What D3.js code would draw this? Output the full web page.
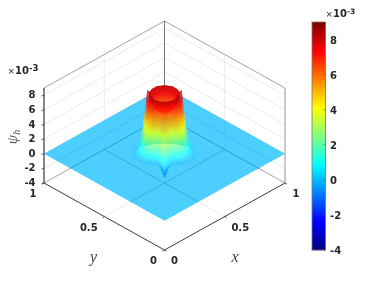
<!DOCTYPE html>
<html><head><meta charset="utf-8">
<script src="https://cdn.jsdelivr.net/npm/d3@7"></script>
<style>html,body{margin:0;padding:0;background:#fff}svg{display:block;filter:blur(.3px)}text{font-family:"DejaVu Sans";font-weight:bold;fill:#262626;font-size:10px}.m{font-family:"Liberation Serif";font-style:italic;font-weight:normal}</style>
</head><body><script>
const zTicks=[-4,-2,0,2,4,6,8];
const xyTicks=[0,0.5,1];
const cbarTicks=[-4,-2,0,2,4,6,8];
const jetStops=["#000080","#0000ff","#00ffff","#ffff00","#ff0000","#800000"];
const jetPos=[0,0.125,0.375,0.625,0.875,1];
// polar profile of the peak about (0.5,0.5): ring radii and heights (x10^-3)
const ringR=[0,0.05,0.08,0.088,0.1,0.11,0.12,0.13,0.15,0.17,0.19];
const ringZ=[5.8,6.2,7.4,8.2,7.6,5.6,3.6,1.9,0.5,0.1,0];
// front spoke (the undershooting node)
const spikeR=[0,0.05,0.08,0.088,0.098,0.108,0.118,0.128,0.14,0.158,0.177];
const spikeZ=[5.8,6.2,7.4,8.2,7.2,6.2,5.2,4.2,2.9,1,-1];
const spokeAngles=[-180,-150,-125,-100,-75,-50,-35,-18,0,18,35,50,75,100,125,150];
const spokeBump=[0,0.5,-1,0.8,-0.8,1.1,-0.8,0,0,0,-0.8,1.1,-0.8,0.8,-1,0.5];
const spokeScale=[0.6,0.65,0.8,1,1,0.8,0.68,0.58,1,0.58,0.68,0.8,1,1,0.8,0.65];

const W=374,H=281;
const sx=d3.scaleLinear().domain([0,1]).range([0,120.5]);
const sg=d3.scaleLinear().domain([0,1]).range([0,67]);
const sz=d3.scaleLinear().domain([-4,9]).range([0,-95]);
const ox=164.5,oy=250;
const P=(x,y,z)=>[ox+sx(x)-sx(y),oy-sg(x)-sg(y)+sz(z)];
const col=d3.scaleLinear().domain(jetPos).range(jetStops).clamp(true);
const tOf=d3.scaleLinear().domain([-4,9]).range([0,1]);
const svg=d3.select("body").append("svg").attr("width",W).attr("height",H);
const line=(a,b,c,w,par)=>(par||svg).append("line").attr("x1",a[0]).attr("y1",a[1]).attr("x2",b[0]).attr("y2",b[1]).attr("stroke",c).attr("stroke-width",w);
const gridC="#e2e2e2",boxC="#8a8a8a",axC="#262626";
zTicks.forEach(z=>{line(P(0,1,z),P(1,1,z),gridC,.7);line(P(1,1,z),P(1,0,z),gridC,.7);});
line(P(.5,1,-4),P(.5,1,9),gridC,.7);line(P(1,.5,-4),P(1,.5,9),gridC,.7);
line(P(.5,0,-4),P(.5,1,-4),gridC,.7);line(P(0,.5,-4),P(1,.5,-4),gridC,.7);
line(P(0,1,9),P(1,1,9),boxC,.8);line(P(1,1,9),P(1,0,9),boxC,.8);
line(P(1,1,-4),P(1,1,9),"#666",.9);
line(P(0,1,-4),P(1,1,-4),boxC,.7);line(P(1,1,-4),P(1,0,-4),boxC,.7);
line(P(1,0,-4),P(1,0,9),boxC,.9);
const a0=.7;
const nSpoke=spokeAngles.length;
const pt=(i,j)=>{const th=spokeAngles[i]*Math.PI/180;
  const front=spokeAngles[i]===0;
  let r=front?spikeR[j]:ringR[j];
  if(!front&&j>3)r*=1+(spokeScale[i]-1)*(j-3)/7;
  let z=front?spikeZ[j]:ringZ[j];
  if(j>=4&&j<=7&&!front)z+=spokeBump[i];
  return {x:.5-r*Math.cos(th)*Math.SQRT1_2+r*Math.sin(th)*Math.SQRT1_2,y:.5-r*Math.cos(th)*Math.SQRT1_2-r*Math.sin(th)*Math.SQRT1_2,z};};
const corners=[P(0,0,0),P(1,0,0),P(1,1,0),P(0,1,0)];
const hole=d3.range(nSpoke).map(i=>{const q=pt(i,ringR.length-1);return P(q.x,q.y,0);});
const dp=a=>"M"+a.map(p=>p.join(",")).join("L")+"Z";
svg.append("path").attr("d",dp(corners)+dp(hole)).attr("fill-rule","evenodd").attr("fill",col(tOf(0))).attr("fill-opacity",a0);
svg.append("clipPath").attr("id","pl").append("path").attr("d",dp(corners));
const thru=svg.append("g").attr("clip-path","url(#pl)");
const tc="#2f9dd6";
line(P(.5,0,-4),P(.5,1,-4),tc,.6,thru);line(P(0,.5,-4),P(1,.5,-4),tc,.6,thru);
line(P(0,1,-4),P(1,1,-4),tc,.7,thru);line(P(1,1,-4),P(1,0,-4),tc,.7,thru);
line(P(0,1,-2),P(1,1,-2),"#44b4e6",.6,thru);line(P(1,1,-2),P(1,0,-2),"#44b4e6",.6,thru);
const backP=[],capP=[],frontP=[];const N=4;
const lerp=(a,b,t)=>({x:a.x+(b.x-a.x)*t,y:a.y+(b.y-a.y)*t,z:a.z+(b.z-a.z)*t});
for(let i=0;i<nSpoke;i++){const i2=(i+1)%nSpoke;
 const isFront=Math.abs(spokeAngles[i])<100&&Math.abs(spokeAngles[i2])<100;
 for(let j=0;j<ringR.length-1;j++){
  const A=pt(i,j),B=pt(i2,j),C=pt(i2,j+1),D=pt(i,j+1);
  for(let u=0;u<N;u++)for(let v=0;v<N;v++){
   const q=(uu,vv)=>lerp(lerp(A,B,uu/N),lerp(D,C,uu/N),vv/N);
   const c=[q(u,v),q(u+1,v),q(u+1,v+1),q(u,v+1)];
   const m=lerp(lerp(c[0],c[2],.5),lerp(c[1],c[3],.5),.5);
   (j<3?capP:(isFront?frontP:backP)).push({c,z:m.z,d:100*(m.x+m.y)-4.9*m.z});
  }}}
[backP,capP,frontP].forEach(list=>{
 list.sort((a,b)=>b.d-a.d);
 svg.append("g").attr("opacity",.76).selectAll("path").data(list).join("path")
 .attr("d",p=>dp(p.c.map(q=>P(q.x,q.y,q.z)))).attr("fill",p=>col(tOf(p.z))).attr("stroke",p=>col(tOf(p.z))).attr("stroke-width",.5);
});
line(P(0,1,-4),P(0,1,9),axC,1.1);
line(P(0,0,-4),P(1,0,-4),axC,.9);
line(P(0,0,-4),P(0,1,-4),axC,.9);
const T=(t,x,y,a="middle")=>svg.append("text").attr("x",x).attr("y",y).attr("text-anchor",a).attr("dominant-baseline","central").text(t);
zTicks.forEach(z=>{const p=P(0,1,z);line(p,[p[0]-2.5,p[1]+.6],axC,.7);T(z,35.5,p[1]-.5,"end");});
xyTicks.forEach(v=>{
 const py=P(0,v,-4);line(py,[py[0]-2,py[1]+1.2],axC,.7);
 const px=P(v,0,-4);line(px,[px[0]+2,px[1]+1.2],axC,.7);
 T(v,py[0]-(v===.5?15.5:11),py[1]+10.5);
 T(v,px[0]+(v===.5?15.5:(v===1?11:10)),px[1]+10.5);
});
const mt=(t,x,y,s)=>svg.append("text").attr("class","m").attr("x",x).attr("y",y).attr("text-anchor","middle").style("font-size",s+"px").style("fill","#444").text(t);
mt("y",93.5,262,16);mt("x",235,262,16);
const zl=svg.append("text").attr("class","m").attr("transform","translate(17,137) rotate(-90)").attr("text-anchor","middle").style("font-size","15px").style("fill","#555");
zl.append("tspan").text("ψ");zl.append("tspan").attr("dy",3).style("font-size","10px").text("h");
const exp=(x,y,s)=>{const t=svg.append("text").attr("x",x).attr("y",y);
 t.append("tspan").style("font-weight","normal").style("font-size","9px").text("×");
 t.append("tspan").text("10");t.append("tspan").attr("dy",-3).style("font-size",s+"px").text("-3");};
exp(7.5,74,8.5);exp(325.5,17,7.5);
const cb=d3.scaleLinear().domain([-4,9]).range([250,22]);
const lev=d3.range(228);
svg.append("g").selectAll("rect").data(lev).join("rect").attr("x",312).attr("width",13.5)
 .attr("y",d=>cb(-4+13*(d+1)/228)).attr("height",1.3)
 .attr("fill",d=>col((d+.5)/228));
svg.append("rect").attr("x",312).attr("y",22).attr("width",13.5).attr("height",228).attr("fill","none").attr("stroke","#777").attr("stroke-width",.8);
cbarTicks.forEach(v=>{line([323.5,cb(v)],[325.5,cb(v)],"#444",.6);T(v,330,cb(v)+.5,"start");});
</script></body></html>
